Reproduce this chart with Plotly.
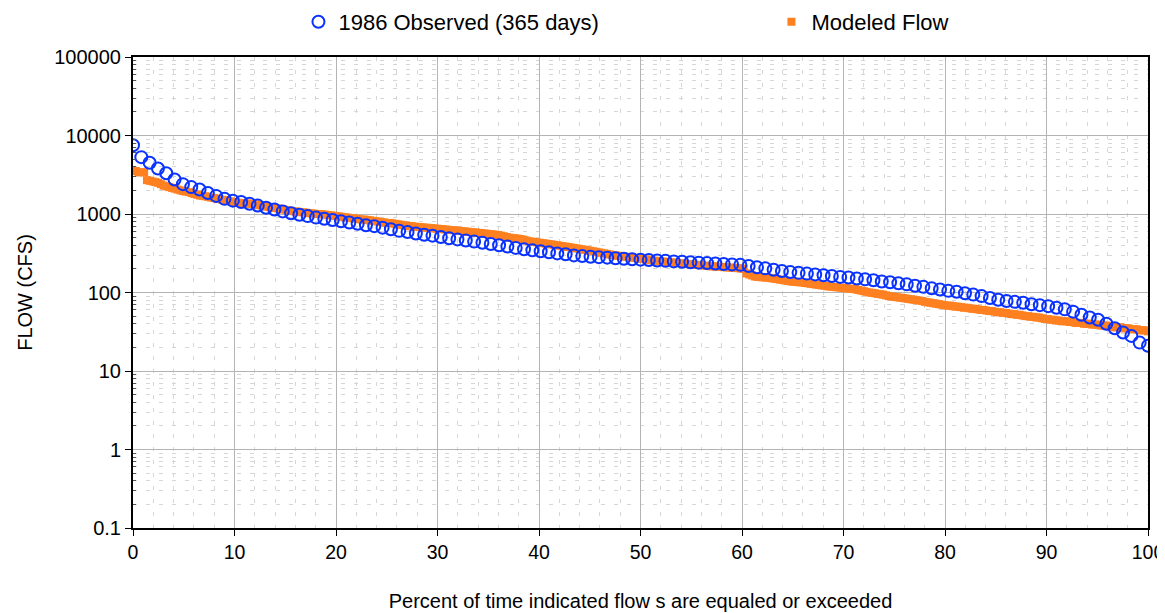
import plotly.graph_objects as go

# Observed 1986 flows (every third ranked day), sorted descending (cfs)
observed_flow = [
    7500, 5300, 4500, 3800, 3300, 2750, 2400, 2200, 2050, 1850,
    1700, 1560, 1480, 1420, 1350, 1280, 1200, 1140, 1080, 1020,
    980, 940, 900, 870, 840, 810, 780, 750, 720, 700,
    670, 640, 610, 590, 565, 545, 530, 510, 490, 475,
    460, 445, 430, 415, 400, 385, 370, 355, 345, 335,
    325, 315, 307, 297, 291, 286, 282, 278, 273, 269,
    265, 262, 259, 256, 253, 249, 246, 243, 240, 237,
    234, 231, 228, 225, 218, 210, 203, 195, 188, 182,
    178, 174, 170, 166, 162, 158, 155, 151, 147, 143,
    138, 135, 131, 127, 122, 118, 113, 109, 105, 102,
    98, 94, 90, 85, 81, 78, 76, 74, 71, 69,
    67, 64, 61, 57, 52, 48, 45, 40, 35, 31,
    28, 23, 21,
]

# Modeled daily flows, sorted descending (cfs)
modeled_flow = [
    3530, 3530, 3400, 3400, 3400, 2700, 2650, 2600, 2550, 2500,
    2400, 2300, 2250, 2200, 2150, 2100, 2050, 2000, 1960, 1930,
    1900, 1850, 1800, 1760, 1720, 1700, 1680, 1650, 1620, 1600,
    1570, 1550, 1520, 1500, 1480, 1450, 1420, 1400, 1390, 1380,
    1370, 1360, 1350, 1340, 1320, 1300, 1280, 1260, 1240, 1220,
    1200, 1190, 1180, 1160, 1140, 1120, 1100, 1090, 1080, 1070,
    1060, 1050, 1040, 1030, 1020, 1010, 1000, 1000, 990, 980,
    970, 960, 950, 940, 930, 920, 910, 900, 890, 880,
    870, 860, 850, 850, 840, 830, 820, 810, 800, 790,
    780, 770, 770, 760, 750, 740, 730, 720, 710, 700,
    700, 690, 685, 680, 675, 670, 665, 660, 655, 650,
    645, 640, 635, 630, 625, 620, 615, 610, 605, 600,
    595, 590, 585, 580, 575, 570, 565, 560, 555, 550,
    545, 540, 530, 520, 510, 500, 495, 490, 485, 480,
    470, 460, 450, 445, 440, 435, 430, 425, 420, 415,
    410, 405, 400, 395, 390, 385, 380, 375, 370, 365,
    360, 355, 350, 345, 340, 335, 330, 325, 320, 315,
    310, 305, 300, 297, 294, 291, 288, 285, 282, 279,
    276, 273, 270, 267, 264, 261, 258, 255, 252, 250,
    248, 246, 244, 242, 240, 238, 236, 234, 232, 230,
    228, 226, 225, 224, 222, 220, 218, 216, 215, 214,
    213, 212, 210, 209, 208, 206, 205, 204, 202, 200,
    175, 170, 165, 160, 158, 157, 156, 155, 154, 152,
    150, 148, 146, 144, 142, 140, 138, 137, 136, 135,
    134, 132, 131, 129, 128, 126, 125, 123, 122, 120,
    119, 118, 117, 116, 115, 114, 113, 112, 111, 110,
    108, 106, 104, 102, 100, 99, 98, 96, 95, 94,
    92, 90, 89, 88, 87, 86, 85, 84, 83, 82,
    81, 80, 79, 78, 76, 75, 74, 73, 72, 71,
    70, 69, 68, 68, 67, 66, 66, 65, 64, 64,
    63, 62, 62, 61, 60, 60, 59, 58, 58, 57,
    56, 56, 55, 55, 54, 53, 53, 52, 52, 51,
    50, 50, 49, 49, 48, 48, 47, 46, 46, 45,
    45, 44, 44, 43, 43, 43, 42, 42, 41, 41,
    41, 40, 40, 40, 39, 39, 39, 38, 38, 38,
    37, 37, 36, 36, 36, 35, 35, 35, 34, 34,
    34, 33, 33, 33, 32,
]

y_tick_values = [0.1, 1, 10, 100, 1000, 10000, 100000]
y_tick_labels = ["0.1", "1", "10", "100", "1000", "10000", "100000"]
x_tick_values = [0, 10, 20, 30, 40, 50, 60, 70, 80, 90, 100]


def exceedance(n):
    return [100.0 * i / (n - 1) for i in range(n)]


FONT = "Liberation Sans, Arial, sans-serif"

fig = go.Figure()
fig.add_trace(go.Scatter(
    x=exceedance(len(modeled_flow)), y=modeled_flow,
    mode="markers", name="Modeled Flow", legend="legend2",
    marker=dict(symbol="square", size=8, color="#FF8020", line=dict(width=0)),
))
fig.add_trace(go.Scatter(
    x=exceedance(len(observed_flow)), y=observed_flow,
    mode="markers", name="1986 Observed (365 days)", legend="legend",
    marker=dict(symbol="circle-open", size=12, color="#0A32FF",
                line=dict(width=2, color="#0A32FF")),
))

minor_y = [m * 10 ** e for e in range(-1, 5) for m in range(2, 10)]

# page body has an 8px margin, so the figure is sized to fit the window
fig.update_layout(
    width=1157, height=605,
    margin=dict(l=125, r=17, t=49, b=85, autoexpand=False),
    paper_bgcolor="white", plot_bgcolor="white",
    font=dict(family=FONT, size=20, color="black"),
    showlegend=True,
    legend=dict(
        orientation="h", x=0.163, xanchor="left", y=1.0743, yanchor="middle",
        font=dict(size=22), itemwidth=30, bgcolor="rgba(0,0,0,0)",
    ),
    legend2=dict(
        orientation="h", x=0.629, xanchor="left", y=1.0743, yanchor="middle",
        font=dict(size=22), itemwidth=30, bgcolor="rgba(0,0,0,0)",
    ),
    xaxis=dict(
        range=[0, 100], tickvals=x_tick_values,
        showline=True, linecolor="black", linewidth=2, mirror=True,
        ticks="outside", ticklen=6, tickcolor="black", tickwidth=1,
        tickfont=dict(size=19.5),
        showgrid=True, gridcolor="#b4b4b4", gridwidth=1,
        minor=dict(dtick=2, showgrid=True, gridcolor="#d6d6d6",
                   griddash="4px,9px", gridwidth=1, ticks=""),
        zeroline=False,
        title=dict(text="Percent of time indicated flow s are equaled or exceeded",
                   font=dict(size=20), standoff=32),
    ),
    yaxis=dict(
        type="log", range=[-1, 5],
        tickvals=y_tick_values, ticktext=y_tick_labels,
        showline=True, linecolor="black", linewidth=2, mirror=True,
        ticks="outside", ticklen=6, tickcolor="black", tickwidth=1,
        tickfont=dict(size=20),
        showgrid=True, gridcolor="#b4b4b4", gridwidth=1,
        minor=dict(tickvals=minor_y, showgrid=True, gridcolor="#d6d6d6",
                   griddash="4px,9px", gridwidth=1,
                   ticks="inside", ticklen=3, tickcolor="#555"),
        zeroline=False,
        title=dict(text="FLOW (CFS)", font=dict(size=20), standoff=16),
    ),
)

fig.write_html("out.html")
